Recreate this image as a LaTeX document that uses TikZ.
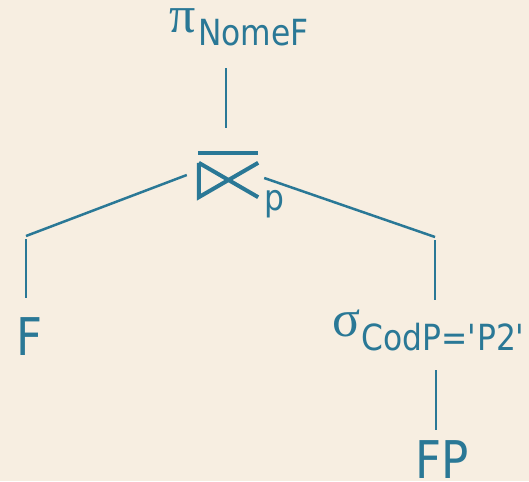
\documentclass[tikz,border=0pt]{standalone}
\usepackage{fontspec}
\setmainfont{DejaVu Sans}[FakeStretch=0.87]
\newfontfamily\symbfont{Liberation Serif}
\usetikzlibrary{positioning}
\definecolor{treeblue}{HTML}{2A7896}
\definecolor{paper}{HTML}{F7EEE1}
\newcommand\relname[1]{\fontsize{52}{52}\selectfont #1}
\newcommand\subname[1]{\fontsize{36}{36}\selectfont #1}
\newcommand\opname[1]{{\symbfont\fontsize{52}{52}\selectfont #1}}

\begin{document}
\begin{tikzpicture}[x=1pt, y=-1pt, edge/.style={draw=treeblue, line width=2.5pt},
    txt/.style={text=treeblue, inner sep=0pt, anchor=base west},
    joinbar/.style={draw=treeblue, line width=4pt}]
    \fill[paper] (0,0) rectangle (529,481);
    \useasboundingbox (0,0) rectangle (529,481);

    % Nodes {proj, join, F, sel, FP}
    \node [txt]  (pi)    at (169,33)  {\opname{π}};
    \node [txt]  (proj)  at (198,46)  {\subname{NomeF}};
    \node [minimum width=60pt, minimum height=44pt, inner sep=0pt] (join) at (228,175) {};
    \node [txt]  (p)     at (264,210) {\subname{p}};
    \node [txt]  (F)     at (16,355)  {\relname{F}};
    \node [txt]  (sigma) at (332,336) {\opname{σ}};
    \node [txt]  (sel)   at (361,350) {\subname{CodP=\textquotesingle P2\textquotesingle}};
    \node [txt]  (FP)    at (415,478) {\relname{FP}};
    \coordinate (lbend) at (26,236);
    \coordinate (rbend) at (435,237);

    % join symbol
    \draw [joinbar] (join.north west) -- (join.north east);
    \draw [joinbar] ([shift={(1,10)}]join.north west) -- ([shift={(1,0)}]join.south west) -- ([shift={(0,10)}]join.north east);
    \draw [joinbar] ([shift={(1,10)}]join.north west) -- (join.south east);

    % Paths
    \draw [edge] ([shift={(-2,-25)}]join.north) -- ++(0,-60);
    \draw [edge] ([shift={(-11,0)}]join.west) -- (lbend);
    \draw [edge] ([shift={(0,3)}]lbend) -- ++(0,59);
    \draw [edge] ([shift={(6,3)}]join.east) -- (rbend);
    \draw [edge] ([shift={(0,3)}]rbend) -- ++(0,60);
    \draw [edge] ([shift={(1,20)}]rbend |- sel.base) -- ++(0,60);
\end{tikzpicture}
\end{document}
